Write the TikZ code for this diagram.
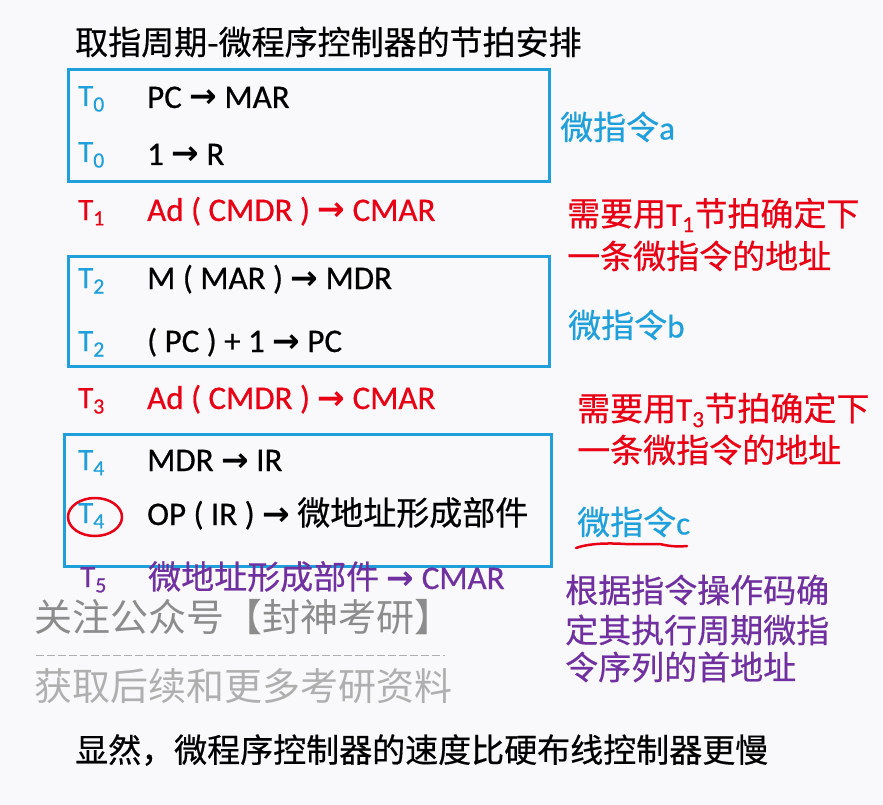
\documentclass[tikz,border=0pt]{standalone}
\usepackage{fontspec}
\setmainfont{Carlito}[FakeBold=0.6]
\newfontfamily\cjk{Noto Sans CJK SC}[FakeBold=0.5]
\newfontfamily\cjkplain{Noto Sans CJK SC}
\newfontfamily\latn{Carlito}[FakeBold=0.6]
\newfontfamily\arwfont{DejaVu Sans}
\definecolor{tblue}{RGB}{32,160,218}
\definecolor{tred}{RGB}{232,0,20}
\definecolor{tpurple}{RGB}{112,48,160}
\definecolor{wmA}{RGB}{140,140,140}
\definecolor{wmB}{RGB}{175,175,175}
\definecolor{bg}{RGB}{249,249,251}
\newcommand{\rarw}{{\arwfont\bfseries →}}
\newcommand{\sub}[1]{\textsubscript{#1}}
\begin{document}
\begin{tikzpicture}[x=1pt,y=-1pt,
  lat/.style={anchor=base west, inner sep=0pt, font=\latn\fontsize{33}{38}\selectfont},
  tlab/.style={anchor=base west, inner sep=0pt, font=\latn\fontsize{31}{36}\selectfont},
  cj/.style={anchor=west, inner sep=0pt, font=\cjk\fontsize{33}{38}\selectfont},
  frame/.style={draw=tblue, line width=3pt, inner sep=0pt, anchor=north west},
  wmark/.style={anchor=west, inner sep=0pt, font=\cjkplain\fontsize{38}{40}\selectfont}
]
\fill[bg] (0,0) rectangle (883,805);
\useasboundingbox (0,0) rectangle (883,805);

% title
\node[cj] (title) at (75,42) {取指周期-微程序控制器的节拍安排};

% frames
\node[frame, minimum width=481pt, minimum height=112pt] (box1) at (67,68) {};
\node[frame, minimum width=481pt, minimum height=110pt] (box2) at (67,255) {};
\node[frame, minimum width=487pt, minimum height=132pt] (box3) at (63,433) {};

% rows
\node[tlab, text=tblue] (t0a) at (78,106) {T\sub{0}};
\node[lat] (r1) at (147,108) {PC \rarw{} MAR};
\node[tlab, text=tblue] (t0b) at (78,162) {T\sub{0}};
\node[lat] (r2) at (147,165) {1 \rarw{} R};

\node[tlab, text=tred] (t1) at (78,220) {T\sub{1}};
\node[lat, text=tred] (r3) at (147,221) {Ad ( CMDR ) \rarw{} CMAR};

\node[tlab, text=tblue] (t2a) at (78,288) {T\sub{2}};
\node[lat] (r4) at (147,289) {M ( MAR ) \rarw{} MDR};
\node[tlab, text=tblue] (t2b) at (78,351) {T\sub{2}};
\node[lat] (r5) at (147,352) {( PC ) + 1 \rarw{} PC};

\node[tlab, text=tred] (t3) at (78,408) {T\sub{3}};
\node[lat, text=tred] (r6) at (147,409) {Ad ( CMDR ) \rarw{} CMAR};

\node[tlab, text=tblue] (t4a) at (78,470) {T\sub{4}};
\node[lat] (r7) at (147,471) {MDR \rarw{} IR};
\node[tlab, text=tblue] (t4b) at (78,523) {T\sub{4}};
\node[lat] (r8) at (147,525) {OP ( IR ) \rarw{} {\cjk 微地址形成部件}};

\node[tlab, text=tpurple] (t5) at (80,587) {T\sub{5}};
\node[lat, text=tpurple] (r9) at (148,589) {{\cjk 微地址形成部件} \rarw{} CMAR};

% red circle around T4
\draw[tred, line width=2.5pt] (95,517) ellipse [x radius=27pt, y radius=19pt];

% right-side notes
\node[cj, text=tblue] (ma) at (560,127) {微指令{\latn a}};
\node[cj, text=tred] (n1a) at (567,215) {需要用{\latn T\sub{1}}节拍确定下};
\node[cj, text=tred] (n1b) at (567,256) {一条微指令的地址};
\node[cj, text=tblue] (mb) at (568,325) {微指令{\latn b}};
\node[cj, text=tred] (n2a) at (577,410) {需要用{\latn T\sub{3}}节拍确定下};
\node[cj, text=tred] (n2b) at (577,450) {一条微指令的地址};
\node[cj, text=tblue] (mc) at (577,522) {微指令{\latn c}};
\draw[tred, line width=2.5pt, line cap=round] (576,548) .. controls (590,543) and (610,543) .. (625,544)
  -- (660,544) .. controls (668,546) and (676,547) .. (687,546);

\node[cj, text=tpurple] (p1) at (565,590) {根据指令操作码确};
\node[cj, text=tpurple] (p2) at (565,630) {定其执行周期微指};
\node[cj, text=tpurple] (p3) at (565,667) {令序列的首地址};

% watermark
\node[wmark, text=wmA] (wm1) at (34,617) {关注公众号【封神考研】};
\draw[wmB, line width=1pt, dash pattern=on 8pt off 3pt] (36,655) -- (445,655);
\node[wmark, text=wmB] (wm2) at (34,686) {获取后续和更多考研资料};

% bottom
\node[cj] (bottom) at (75,750) {显然，微程序控制器的速度比硬布线控制器更慢};
\end{tikzpicture}
\end{document}
